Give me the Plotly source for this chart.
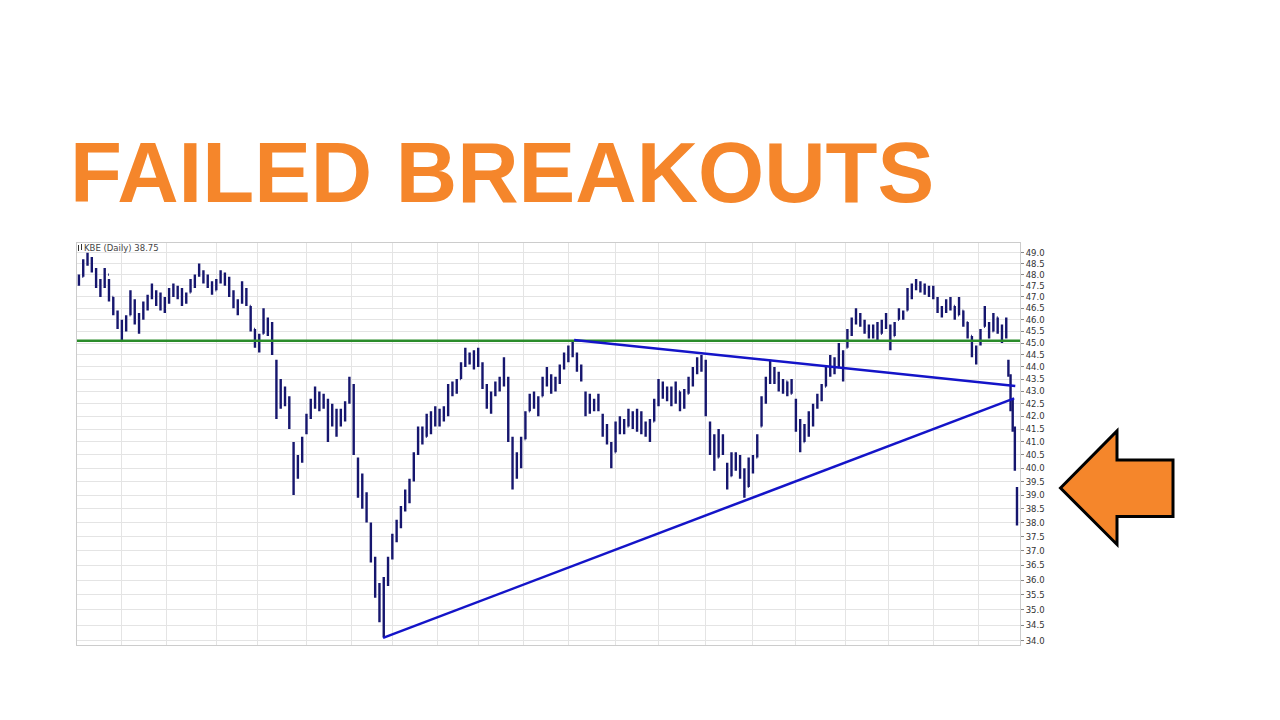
import plotly.graph_objects as go

# ---------------- data ----------------
# trading-day index of each bar (2-day bars, daily in the last week)
days = list(range(0, 433, 2)) + [433, 434, 435, 436, 437]

high = [48.0, 48.7, 49.0, 48.8, 48.3, 47.8, 48.3, 47.8, 47.0, 46.4,
        46.0, 46.2, 47.3, 46.9, 46.3, 46.8, 47.1, 47.6, 47.3, 47.2,
        47.0, 47.4, 47.6, 47.5, 47.4, 47.2, 47.8, 48.0, 48.5, 48.2,
        48.0, 47.7, 47.8, 48.2, 48.1, 47.9, 47.3, 46.9, 47.7, 47.4,
        46.6, 45.6, 45.4, 46.5, 46.1, 45.9, 44.3, 43.5, 43.2, 42.8,
        41.0, 40.5, 41.2, 42.1, 42.7, 43.2, 43.0, 42.9, 42.7, 42.5,
        42.3, 42.3, 42.6, 43.6, 43.3, 40.4, 39.8, 39.1, 38.0, 36.8,
        35.9, 36.1, 36.8, 37.6, 38.1, 38.6, 39.2, 39.6, 40.6, 41.6,
        41.6, 42.1, 42.2, 42.4, 42.3, 42.4, 43.3, 43.4, 43.5, 44.2,
        44.8, 44.6, 44.7, 44.8, 44.2, 43.3, 43.0, 43.4, 43.6, 44.4,
        43.6, 41.2, 40.6, 41.2, 42.2, 42.9, 43.0, 42.8, 43.6, 44.0,
        43.7, 43.6, 44.1, 44.6, 44.9, 45.1, 44.6, 44.1, 43.0, 42.9,
        42.7, 42.9, 42.1, 41.7, 41.0, 41.8, 42.0, 41.9, 42.3, 42.2,
        42.3, 42.2, 41.8, 41.9, 42.7, 43.5, 43.4, 43.2, 43.2, 43.4,
        43.0, 43.1, 43.6, 44.0, 44.4, 44.5, 44.3, 41.8, 41.3, 41.5,
        41.3, 40.2, 40.6, 40.6, 40.5, 40.0, 40.4, 40.5, 41.3, 42.8,
        43.6, 44.3, 44.0, 43.8, 43.5, 43.4, 43.5, 42.7, 41.9, 41.7,
        42.2, 42.5, 42.9, 43.3, 44.0, 44.5, 44.4, 45.0, 44.7, 45.6,
        46.1, 46.5, 46.3, 46.0, 45.8, 45.8, 45.9, 46.0, 46.3, 45.8,
        45.9, 46.5, 46.4, 47.4, 47.6, 47.8, 47.7, 47.6, 47.5, 47.5,
        47.0, 46.6, 46.9, 47.0, 46.6, 47.0, 46.4, 45.9, 45.3, 44.9,
        45.6, 46.6, 45.9, 46.3, 46.1, 45.8, 46.1,
        44.3, 43.7, 42.7, 41.6, 39.3]

low = [47.5, 47.9, 48.4, 48.1, 47.4, 47.0, 47.4, 46.8, 46.2, 45.6,
       45.1, 45.5, 46.2, 45.8, 45.4, 46.0, 46.4, 46.9, 46.6, 46.4,
       46.3, 46.7, 47.0, 46.9, 46.6, 46.7, 47.2, 47.4, 47.9, 47.6,
       47.4, 47.1, 47.3, 47.6, 47.5, 47.0, 46.5, 46.2, 46.7, 46.6,
       45.5, 44.8, 44.6, 45.4, 45.3, 44.5, 41.9, 42.3, 42.4, 41.5,
       39.0, 39.6, 40.2, 41.3, 41.9, 42.3, 42.2, 42.3, 41.0, 41.6,
       41.2, 41.6, 41.8, 42.5, 40.5, 38.9, 38.5, 38.0, 36.6, 35.4,
       34.6, 34.1, 35.8, 36.7, 37.3, 37.8, 38.4, 38.7, 39.5, 40.5,
       40.9, 41.2, 41.3, 41.6, 41.6, 41.8, 42.0, 42.8, 42.9, 43.5,
       44.0, 44.1, 43.9, 44.0, 43.1, 42.3, 42.1, 42.8, 43.0, 43.2,
       41.0, 39.2, 39.6, 40.0, 41.1, 42.2, 42.3, 42.0, 42.8, 43.2,
       42.9, 43.0, 43.3, 43.9, 44.2, 44.4, 43.8, 43.4, 42.0, 42.1,
       42.2, 42.2, 41.2, 40.9, 40.0, 40.6, 41.3, 41.3, 41.6, 41.5,
       41.4, 41.3, 41.2, 41.0, 41.8, 42.4, 42.7, 42.6, 42.4, 42.5,
       42.2, 42.3, 42.9, 43.2, 43.7, 43.8, 42.0, 40.5, 39.9, 40.4,
       40.5, 39.2, 39.7, 39.9, 39.6, 38.9, 39.3, 39.8, 40.4, 41.6,
       42.5, 43.3, 43.3, 43.0, 42.9, 42.8, 42.9, 41.4, 40.6, 41.0,
       41.2, 41.6, 42.3, 42.6, 43.2, 43.6, 43.7, 44.0, 43.4, 44.8,
       45.3, 45.8, 45.7, 45.4, 45.2, 45.2, 45.1, 45.4, 45.6, 44.7,
       45.3, 46.0, 46.0, 46.4, 46.9, 47.3, 47.2, 47.1, 47.0, 46.9,
       46.3, 46.1, 46.3, 46.4, 46.0, 46.2, 45.7, 45.2, 44.4, 44.1,
       44.9, 45.7, 45.2, 45.5, 45.4, 45.0, 45.2,
       43.6, 42.2, 41.4, 39.9, 37.9]

open_ = [47.6, 47.9, 48.6, 48.7, 48.2, 47.6, 47.5, 48.0, 47.0, 46.3,
         45.8, 45.6, 46.2, 46.8, 46.0, 46.1, 46.6, 47.0, 47.2, 46.8,
         46.6, 46.9, 47.2, 47.3, 47.0, 46.8, 47.2, 47.6, 48.0, 48.1,
         47.8, 47.5, 47.3, 47.7, 48.0, 47.7, 47.1, 46.6, 46.8, 47.3,
         46.6, 45.6, 45.0, 45.4, 46.0, 45.7, 44.2, 42.8, 43.0, 42.6,
         40.9, 39.7, 40.3, 41.4, 42.0, 42.5, 42.9, 42.4, 42.6, 41.7,
         42.2, 41.7, 42.0, 42.6, 43.2, 40.3, 39.3, 38.8, 37.9, 36.7,
         35.7, 34.3, 35.9, 36.8, 37.4, 37.9, 38.5, 39.0, 39.6, 40.6,
         41.4, 41.2, 41.9, 41.7, 42.2, 41.9, 42.3, 43.1, 43.0, 43.5,
         44.1, 44.5, 44.2, 44.5, 44.1, 43.2, 42.5, 42.9, 43.2, 43.4,
         43.5, 41.1, 39.7, 40.3, 41.1, 42.2, 42.8, 42.4, 42.8, 43.5,
         43.6, 43.1, 43.4, 44.0, 44.4, 44.7, 44.5, 44.0, 42.9, 42.2,
         42.6, 42.4, 42.0, 41.4, 40.9, 40.6, 41.6, 41.7, 41.6, 42.1,
         41.7, 41.6, 41.7, 41.4, 41.8, 42.5, 43.2, 42.9, 42.8, 42.6,
         43.0, 42.4, 42.9, 43.5, 43.8, 44.2, 44.2, 41.7, 40.8, 40.4,
         41.2, 40.1, 39.7, 40.4, 40.2, 39.8, 39.3, 40.2, 40.4, 41.6,
         42.6, 43.4, 43.8, 43.6, 43.2, 43.4, 42.9, 42.6, 41.6, 41.0,
         41.5, 42.0, 42.4, 42.8, 43.2, 43.8, 44.3, 44.0, 44.6, 44.8,
         45.4, 45.9, 46.2, 45.9, 45.6, 45.4, 45.6, 45.4, 45.9, 45.7,
         45.3, 46.0, 46.3, 46.4, 47.2, 47.5, 47.6, 47.3, 47.4, 47.2,
         46.9, 46.5, 46.4, 46.8, 46.6, 46.2, 46.4, 45.9, 45.3, 44.6,
         45.0, 45.7, 45.8, 45.5, 46.1, 45.6, 45.3,
         44.2, 43.6, 42.4, 41.5, 39.2]

close = [47.9, 48.6, 48.7, 48.2, 47.6, 47.5, 48.1, 47.0, 46.4, 45.8,
         45.5, 46.1, 47.1, 46.0, 46.1, 46.7, 46.9, 47.4, 46.8, 46.6,
         46.9, 47.3, 47.4, 47.0, 46.8, 47.1, 47.7, 47.9, 48.2, 47.8,
         47.5, 47.3, 47.7, 48.0, 47.7, 47.1, 46.6, 46.8, 47.5, 46.7,
         45.7, 45.0, 45.3, 46.2, 45.7, 44.7, 42.9, 43.2, 42.6, 41.6,
         39.3, 40.1, 41.0, 41.9, 42.5, 42.9, 42.4, 42.7, 41.3, 42.3,
         41.5, 42.1, 42.5, 43.4, 40.7, 39.3, 38.7, 38.3, 36.8, 35.6,
         34.8, 35.9, 36.6, 37.4, 37.9, 38.5, 39.0, 39.4, 40.4, 41.4,
         41.1, 41.9, 41.6, 42.2, 41.8, 42.3, 43.1, 43.0, 43.4, 44.1,
         44.6, 44.2, 44.5, 44.1, 43.3, 42.5, 42.9, 43.2, 43.4, 44.2,
         41.3, 39.5, 40.4, 41.0, 42.0, 42.8, 42.4, 42.6, 43.5, 43.7,
         43.1, 43.5, 44.0, 44.4, 44.7, 44.9, 44.0, 43.5, 42.2, 42.7,
         42.4, 42.6, 41.4, 41.0, 40.2, 41.6, 41.7, 41.5, 42.1, 41.7,
         41.6, 42.0, 41.4, 41.7, 42.5, 43.2, 42.9, 42.8, 42.6, 43.1,
         42.4, 42.9, 43.5, 43.8, 44.2, 44.3, 42.3, 40.8, 40.2, 41.2,
         40.7, 39.4, 40.4, 40.2, 39.8, 39.1, 40.2, 40.1, 41.1, 42.6,
         43.4, 43.8, 43.6, 43.2, 43.4, 42.9, 43.3, 41.6, 41.0, 41.5,
         42.0, 42.4, 42.8, 43.2, 43.8, 44.3, 44.0, 44.8, 44.0, 45.4,
         45.9, 46.2, 45.9, 45.6, 45.4, 45.6, 45.3, 45.9, 46.1, 45.1,
         45.8, 46.3, 46.1, 47.2, 47.5, 47.6, 47.3, 47.4, 47.2, 47.3,
         46.5, 46.4, 46.8, 46.6, 46.2, 46.8, 45.9, 45.4, 44.6, 44.5,
         45.5, 46.4, 45.5, 46.1, 45.6, 45.3, 45.4,
         43.8, 42.4, 41.6, 40.0, 38.75]

# trading days in each month shown (Jun 2018 partial ... Feb 2020)
month_days = [20, 21, 23, 19, 23, 21, 19, 21, 19, 21, 21, 22,
              20, 22, 22, 20, 23, 20, 21, 21, 19]

y_tick_labels = ["49.0", "48.5", "48.0", "47.5", "47.0", "46.5", "46.0",
                 "45.5", "45.0", "44.5", "44.0", "43.5", "43.0", "42.5",
                 "42.0", "41.5", "41.0", "40.5", "40.0", "39.5", "39.0",
                 "38.5", "38.0", "37.5", "37.0", "36.5", "36.0", "35.5",
                 "35.0", "34.5", "34.0"]

support_level = 45.1
falling_line_days = [230.7, 436.2]
falling_line_prices = [45.13, 43.22]
rising_line_days = [141.7, 435.7]
rising_line_prices = [34.09, 42.72]

title_text = "FAILED BREAKOUTS"
label_text = "KBE (Daily) 38.75"

# ---------------- styling ----------------
NAVY = "#16166e"
GREEN = "#2a8c2a"
BLUE = "#1414c8"
ORANGE = "#F5862B"
GRID = "#e4e4e4"
FRAME = "#cccccc"

OFF = 8                      # default page body margin
W, H = 1280 - OFF, 720 - OFF
# plot area target, in screen pixels
SL, SR, ST, SB = 77, 1020, 243, 645
L, R, T, B = SL - OFF, SR - OFF, ST - OFF, SB - OFF


def pxx(x):
    """screen x pixel -> paper x"""
    return (x - OFF - L) / (R - L)


def pyy(y):
    """screen y pixel -> paper y"""
    return (B - (y - OFF)) / (B - T)


month_starts = []
acc = 0
for n in month_days[:-1]:
    acc += n
    month_starts.append(acc)

tickvals_y = [float(s) for s in y_tick_labels]

split = len(days) - 5
fig = go.Figure()
for sl, tw in ((slice(0, split), 0.38), (slice(split, None), 0.5)):
    fig.add_trace(go.Ohlc(
        x=days[sl], open=open_[sl], high=high[sl], low=low[sl], close=close[sl],
        increasing=dict(line=dict(color=NAVY, width=2.4)),
        decreasing=dict(line=dict(color=NAVY, width=2.4)),
        tickwidth=tw, hoverinfo="skip", showlegend=False,
    ))

fig.add_trace(go.Scatter(
    x=[-0.9, 438.4], y=[support_level, support_level], mode="lines",
    line=dict(color=GREEN, width=2.5), hoverinfo="skip", showlegend=False))
fig.add_trace(go.Scatter(
    x=falling_line_days, y=falling_line_prices, mode="lines",
    line=dict(color=BLUE, width=2.5), hoverinfo="skip", showlegend=False))
fig.add_trace(go.Scatter(
    x=rising_line_days, y=rising_line_prices, mode="lines",
    line=dict(color=BLUE, width=2.5), hoverinfo="skip", showlegend=False))

# orange block arrow (screen pixel outline)
arrow_pts = [(1060.5, 488), (1117, 431), (1117, 460), (1173, 460),
             (1173, 516.5), (1117, 516.5), (1117, 544.5)]
path = "M " + " L ".join(f"{pxx(a):.5f},{pyy(b):.5f}" for a, b in arrow_pts) + " Z"

shapes = [dict(type="path", xref="paper", yref="paper", path=path,
               fillcolor=ORANGE, line=dict(color="black", width=3), layer="above")]
# tiny bar-chart icon before the label
for (x0, y0, y1) in [(78.5, 245, 251), (81.5, 244, 250)]:
    shapes.append(dict(type="line", xref="paper", yref="paper",
                       x0=pxx(x0), x1=pxx(x0), y0=pyy(y0), y1=pyy(y1),
                       line=dict(color="#333", width=1)))

annotations = [
    dict(text=f"<b>{title_text}</b>", xref="paper", yref="paper",
         x=pxx(68), y=pyy(172.5), xanchor="left", yanchor="middle",
         showarrow=False,
         font=dict(family="Liberation Sans, Arial, sans-serif", size=85, color=ORANGE)),
    dict(text=label_text, xref="paper", yref="paper",
         x=pxx(82), y=pyy(248), xanchor="left", yanchor="middle",
         showarrow=False,
         font=dict(family="DejaVu Sans, Verdana, sans-serif", size=8.5, color="#444")),
]

fig.update_layout(
    width=W, height=H,
    margin=dict(l=L, r=W - R, t=T, b=H - B, pad=0),
    paper_bgcolor="white", plot_bgcolor="white",
    showlegend=False, hovermode=False,
    shapes=shapes, annotations=annotations,
    xaxis=dict(range=[-0.9, 438.4], tickvals=month_starts, showticklabels=False,
               ticks="", showgrid=True, gridcolor=GRID, gridwidth=1,
               zeroline=False, showline=True, mirror=True, linecolor=FRAME,
               linewidth=1, rangeslider=dict(visible=False), fixedrange=True),
    yaxis=dict(type="log", range=[1.52972, 1.69417], side="right",
               tickvals=tickvals_y, ticktext=y_tick_labels,
               ticks="outside", ticklen=3, tickcolor="#888",
               tickfont=dict(family="DejaVu Sans, Verdana, sans-serif", size=8.5, color="#333"),
               showgrid=True, gridcolor=GRID, gridwidth=1, zeroline=False,
               showline=True, mirror=True, linecolor=FRAME, linewidth=1,
               fixedrange=True),
)

fig.write_html("out.html", config={"displayModeBar": False})
